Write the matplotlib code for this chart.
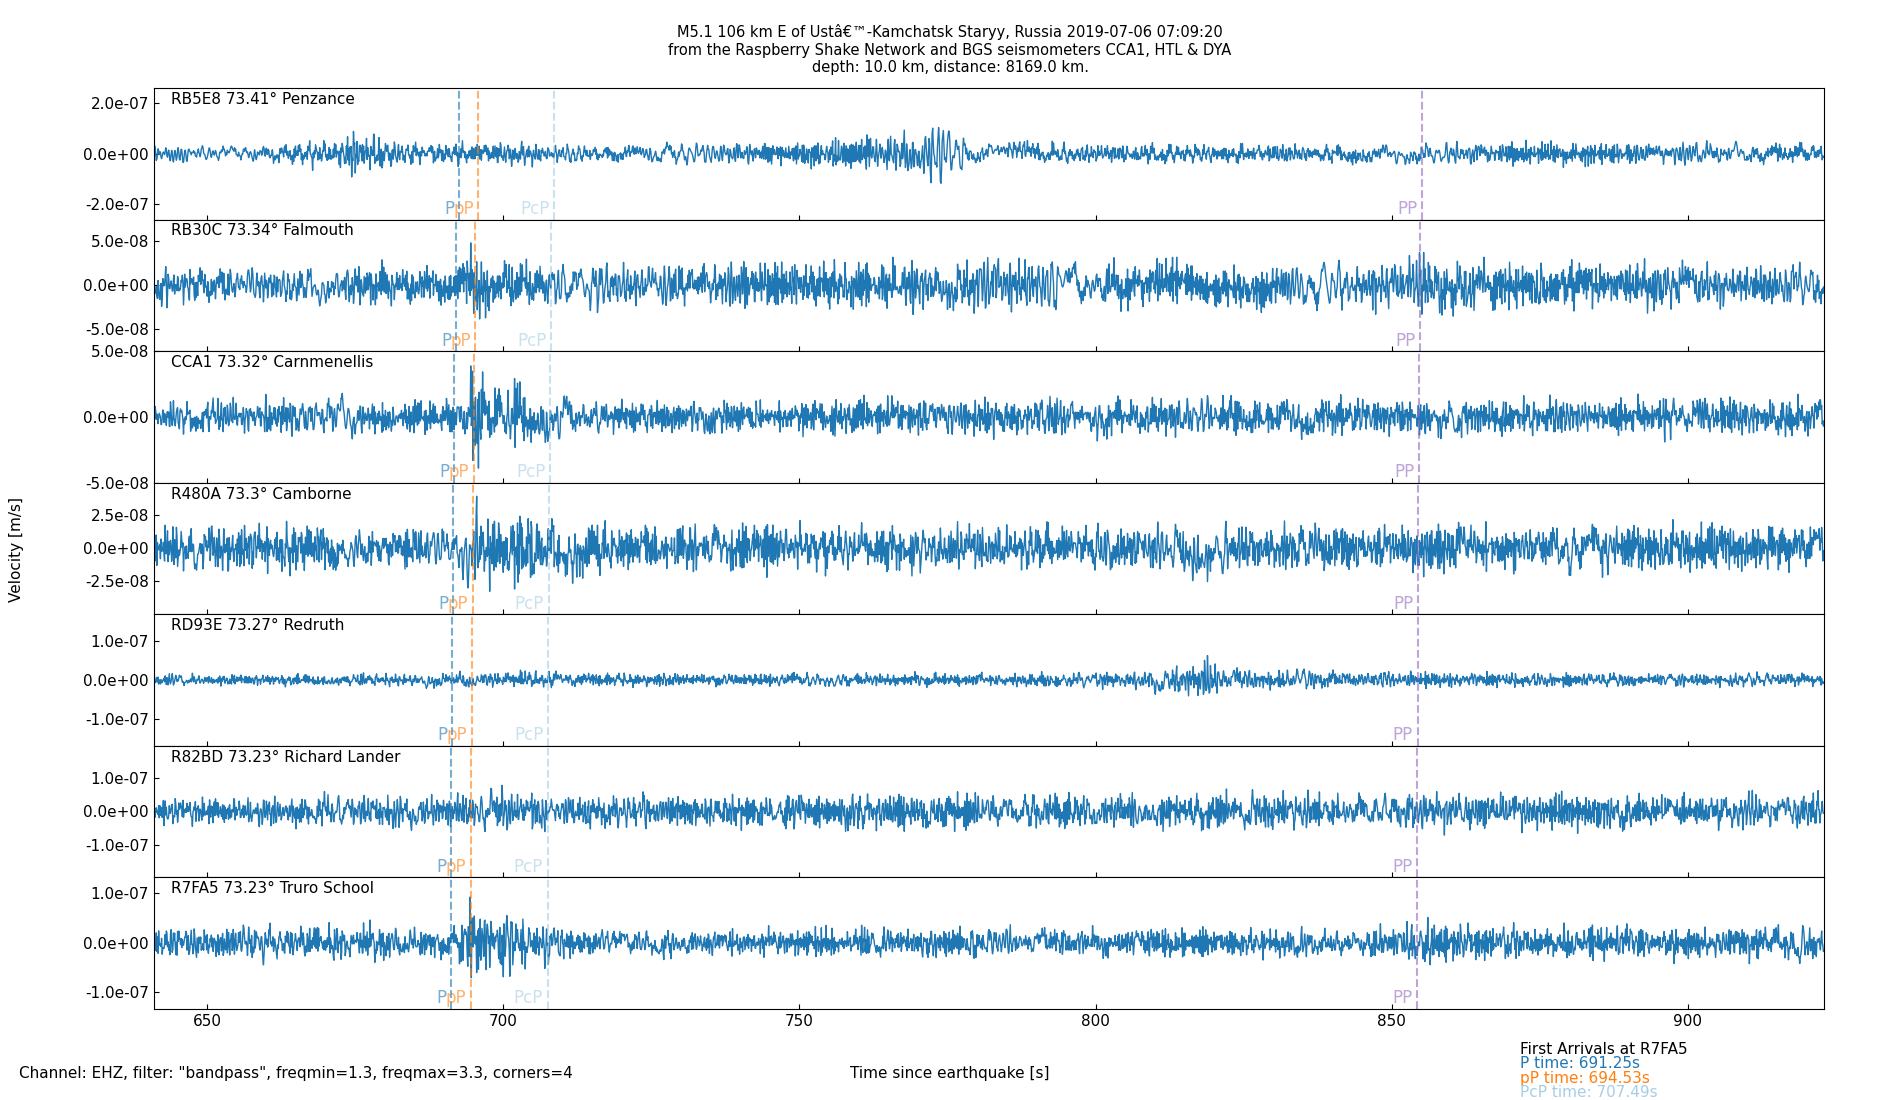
import numpy as np
import matplotlib.pyplot as plt

stations = ["RB5E8 73.41° Penzance", "RB30C 73.34° Falmouth", "CCA1 73.32° Carnmenellis",
            "R480A 73.3° Camborne", "RD93E 73.27° Redruth", "R82BD 73.23° Richard Lander",
            "R7FA5 73.23° Truro School"]
ylims = [2.6e-7, 7.5e-8, 5.0e-8, 5.0e-8, 1.7e-7, 1.95e-7, 1.33e-7]
yticks = [[-2e-7, 0, 2e-7], [-5e-8, 0, 5e-8], [-5e-8, 0, 5e-8], [-2.5e-8, 0, 2.5e-8],
          [-1e-7, 0, 1e-7], [-1e-7, 0, 1e-7], [-1e-7, 0, 1e-7]]
p_times = [692.5, 692.0, 691.7, 691.5, 691.4, 691.25, 691.25]
pp_small = [695.8, 695.3, 695.0, 694.8, 694.7, 694.53, 694.53]
pcp_times = [708.6, 708.1, 707.9, 707.7, 707.6, 707.49, 707.49]
PP_times = [855.2, 854.8, 854.6, 854.5, 854.4, 854.3, 854.3]

# envelope knots (time s, amplitude m/s)
env_t = [641, 660, 670, 676, 682, 692, 695, 698, 702, 705, 712, 740, 760, 770, 774, 780, 800, 815, 818, 822, 850, 856, 870, 900, 923]
env_a = [
    [2e-8, 2e-8, 4e-8, 7e-8, 3e-8, 3e-8, 3e-8, 3e-8, 3e-8, 3e-8, 2e-8, 3e-8, 4.5e-8, 6e-8, 8e-8, 3.5e-8, 2.5e-8, 2.5e-8, 2.5e-8, 2.5e-8, 2.5e-8, 3e-8, 3e-8, 3e-8, 3e-8],
    [1.4e-8, 1.4e-8, 1.5e-8, 1.6e-8, 1.5e-8, 1.6e-8, 3e-8, 2e-8, 2e-8, 2e-8, 1.8e-8, 1.8e-8, 1.8e-8, 1.9e-8, 1.9e-8, 2.2e-8, 1.8e-8, 2e-8, 2e-8, 1.9e-8, 1.9e-8, 2.5e-8, 2e-8, 1.8e-8, 1.8e-8],
    [8e-9, 9e-9, 1e-8, 1e-8, 9e-9, 1e-8, 3e-8, 1.5e-8, 2.5e-8, 1.5e-8, 1e-8, 9e-9, 1e-8, 1e-8, 1e-8, 1e-8, 1e-8, 1e-8, 1e-8, 1e-8, 1e-8, 1.1e-8, 1e-8, 1e-8, 1e-8],
    [1e-8, 1.3e-8, 1.2e-8, 1.1e-8, 1.1e-8, 1.2e-8, 2.5e-8, 1.8e-8, 2.2e-8, 2.2e-8, 1.4e-8, 1.2e-8, 1.2e-8, 1.2e-8, 1.2e-8, 1.2e-8, 1.1e-8, 1.5e-8, 1.4e-8, 1.2e-8, 1.2e-8, 1.3e-8, 1.3e-8, 1.3e-8, 1.2e-8],
    [1e-8, 1e-8, 1.1e-8, 1.1e-8, 1.2e-8, 1.3e-8, 1.5e-8, 1.5e-8, 1.6e-8, 1.6e-8, 1.2e-8, 1.1e-8, 1.1e-8, 1.2e-8, 1.2e-8, 1.2e-8, 1.3e-8, 2.5e-8, 4e-8, 2e-8, 1.3e-8, 1.4e-8, 1.3e-8, 1.2e-8, 1.2e-8],
    [3e-8, 3.2e-8, 3.2e-8, 3.2e-8, 3.2e-8, 3.2e-8, 4e-8, 4e-8, 4.5e-8, 4e-8, 3.5e-8, 3.5e-8, 3.5e-8, 3.5e-8, 3.5e-8, 3.5e-8, 3.5e-8, 3.5e-8, 3.5e-8, 3.5e-8, 3.5e-8, 4.2e-8, 3.8e-8, 3.5e-8, 3.5e-8],
    [2e-8, 2.3e-8, 2.3e-8, 3.5e-8, 2e-8, 2e-8, 6.5e-8, 4e-8, 5e-8, 3e-8, 2e-8, 2e-8, 2e-8, 2e-8, 2e-8, 2e-8, 2e-8, 2e-8, 2e-8, 2e-8, 2e-8, 2.8e-8, 2.4e-8, 2.2e-8, 2.4e-8],
]
carrier_freqs = [1.37, 1.91, 2.43, 2.97, 3.29]
carrier_weights = [0.5, 0.8, 0.7, 0.5, 0.3]

time_min, time_max = 641, 923
t = np.arange(time_min, time_max, 0.1)

fig, axes = plt.subplots(7, 1, figsize=(19, 11), dpi=100, sharex=True)
fig.subplots_adjust(left=0.081, right=0.96, top=0.92, bottom=0.083, hspace=0)
c = {'P': '#1f77b4', 'pP': '#ff7f0e', 'PcP': '#a6cee3', 'PP': '#9467bd'}
for i, ax in enumerate(axes):
    env = np.interp(t, env_t, env_a[i])
    sig = np.zeros_like(t)
    for k, (f, w) in enumerate(zip(carrier_freqs, carrier_weights)):
        sig += w * np.sin(2 * np.pi * f * t * (1 + 0.013 * (i + 1) * np.sin(0.05 * t * (k + 1))) + 1.3 * k * (i + 1))
    sig = sig / 1.4 * env
    ax.plot(t, sig, color='#1f77b4', lw=1)
    ax.set_xlim(time_min, time_max)
    ax.set_ylim(-ylims[i], ylims[i])
    ax.set_yticks(yticks[i])
    ax.set_yticklabels(['%.1e' % v for v in yticks[i]], fontsize=11)
    ax.tick_params(direction='in', labelsize=11)
    ax.text(0.01, 0.97, stations[i], transform=ax.transAxes, va='top', fontsize=11)
    for name, tt in (('P', p_times[i]), ('pP', pp_small[i]), ('PcP', pcp_times[i]), ('PP', PP_times[i])):
        ax.axvline(tt, color=c[name], ls='--', alpha=0.6, lw=1.5)
        ax.text(tt - 0.8, -ylims[i] * 0.98, name, color=c[name], alpha=0.6, ha='right', va='bottom', fontsize=12)
axes[-1].set_xticks([650, 700, 750, 800, 850, 900])
axes[-1].tick_params(axis='x', labelsize=11)
fig.text(0.5, 0.955, "M5.1 106 km E of Ustâ€™-Kamchatsk Staryy, Russia 2019-07-06 07:09:20\n"
         "from the Raspberry Shake Network and BGS seismometers CCA1, HTL & DYA\n"
         "depth: 10.0 km, distance: 8169.0 km.", ha='center', va='center', fontsize=10.5)
fig.text(0.005, 0.5, "Velocity [m/s]", rotation=90, va='center', fontsize=11)
fig.text(0.5, 0.02, "Time since earthquake [s]", ha='center', fontsize=11)
fig.text(0.01, 0.02, 'Channel: EHZ, filter: "bandpass", freqmin=1.3, freqmax=3.3, corners=4', fontsize=11)
lines = [("First Arrivals at R7FA5", 'black'), ("P time: 691.25s", c['P']),
         ("pP time: 694.53s", c['pP']), ("PcP time: 707.49s", c['PcP'])]
for j, (s, col) in enumerate(lines):
    fig.text(0.80, 0.046 - j * 0.0132, s, color=col, fontsize=11, va='center')
fig.savefig("out.png")
